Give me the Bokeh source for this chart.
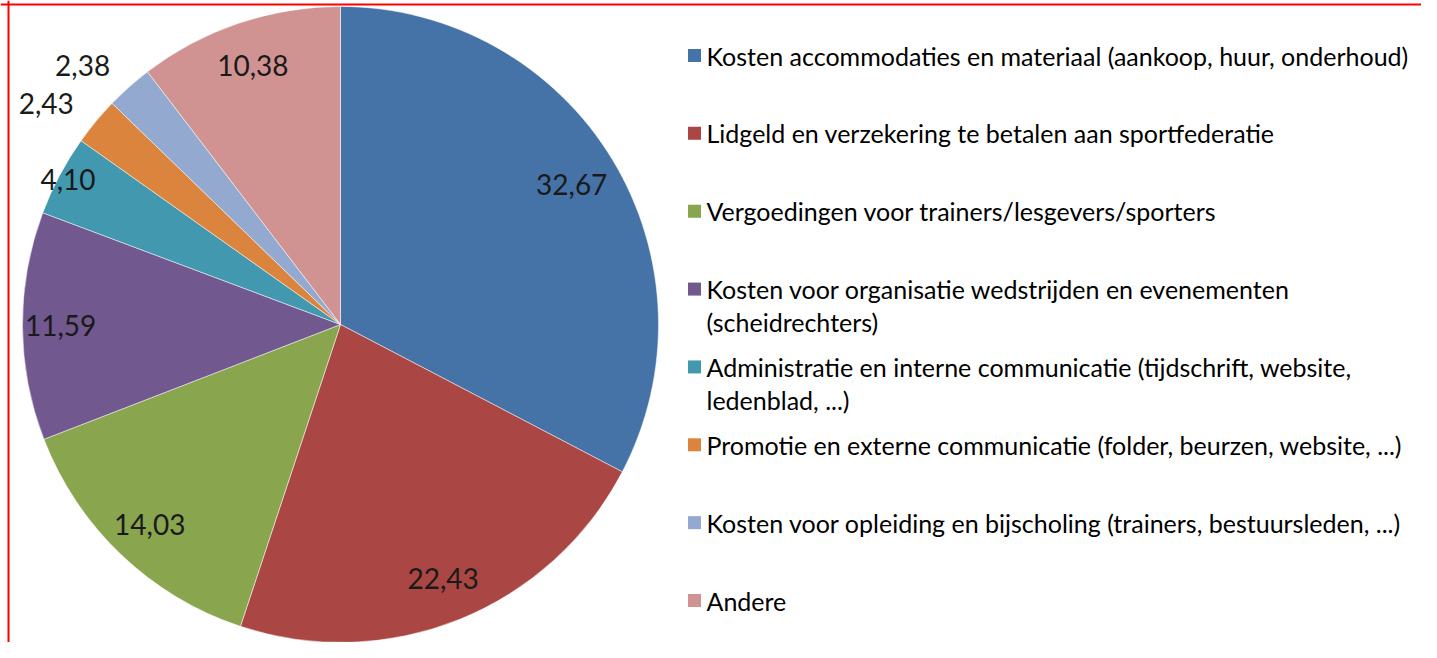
import math
from bokeh.plotting import figure
from bokeh.models import ColumnDataSource, Range1d, Span
from bokeh.core.properties import value
from bokeh.embed import file_html
from bokeh.resources import INLINE

# ---- data ----
categories = [
    "Kosten accommodaties en materiaal (aankoop, huur,  onderhoud)",
    "Lidgeld en verzekering  te betalen aan sportfederatie",
    "Vergoedingen voor  trainers/lesgevers/sporters",
    "Kosten voor  organisatie wedstrijden en evenementen\n(scheidrechters)",
    "Administratie en interne communicatie (tijdschrift, website,\nledenblad, ...)",
    "Promotie en externe communicatie (folder, beurzen,  website, ...)",
    "Kosten voor  opleiding en bijscholing (trainers, bestuursleden, ...)",
    "Andere",
]
values = [32.67, 22.43, 14.03, 11.59, 4.10, 2.43, 2.38, 10.38]
value_labels = ["32,67", "22,43", "14,03", "11,59", "4,10", "2,43", "2,38", "10,38"]
colors = ["#4572A7", "#AA4643", "#89A54E", "#71588F", "#4198AF", "#DB843D", "#93A9CF", "#D19392"]

# ---- layout (not data) ----
W, H = 1421, 642
CX, CY, R = 340, 318, 318
label_r = [0.85, 0.86, 0.87, 0.88, 0.97, 1.09, 1.09, 0.86]
label_align = ["center", "center", "center", "center", "center", "right", "right", "center"]
FONT = "Lato"

p = figure(width=W, height=H, output_backend="svg", toolbar_location=None,
           x_range=Range1d(0, W), y_range=Range1d(0, H),
           x_axis_location=None, y_axis_location=None, min_border=0)
p.grid.visible = False
p.outline_line_color = None
p.background_fill_color = "white"

total = sum(values)
starts, ends, lx, ly = [], [], [], []
cum = 0.0
for v, f in zip(values, label_r):
    a0 = cum / total
    cum += v
    a1 = cum / total
    starts.append(math.pi / 2 - 2 * math.pi * a1)
    ends.append(math.pi / 2 - 2 * math.pi * a0)
    m = (a0 + a1) / 2
    th = math.pi / 2 - 2 * math.pi * m
    lx.append(CX + f * R * math.cos(th))
    ly.append(CY + f * R * math.sin(th))

src = ColumnDataSource(dict(start=starts, end=ends, color=colors, lx=lx, ly=ly,
                            lab=value_labels, align=label_align))
p.wedge(x=CX, y=CY, radius=R, start_angle="start", end_angle="end",
        direction="anticlock", fill_color="color", line_color="white", line_width=0.5,
        source=src)
p.text(x="lx", y="ly", text="lab", text_align="align", text_baseline="middle",
       text_font=value(FONT), text_font_size="28px", text_color="#1a1a1a", source=src)

# ---- legend (manual) ----
LEG_X, LEG_Y0, LEG_STEP, LINE_H = 694, 587, 77.86, 33
sq_x, sq_y, sq_c = [], [], []
tx, ty, tt = [], [], []
for i, (cat, c) in enumerate(zip(categories, colors)):
    y0 = LEG_Y0 - i * LEG_STEP
    sq_x.append(LEG_X); sq_y.append(y0); sq_c.append(c)
    for j, line in enumerate(cat.split("\n")):
        tx.append(LEG_X + 12)
        ty.append(y0 - j * LINE_H)
        tt.append(line)
p.scatter(x=sq_x, y=sq_y, marker="square", size=13, fill_color=sq_c, line_color=None)
p.text(x=tx, y=ty, text=tt, text_align="left", text_baseline="middle",
       text_font=value(FONT), text_font_size="25px", text_color="black")

# ---- red frame (top & left) ----
p.add_layout(Span(location=H - 4, dimension="width", line_color="red", line_width=2))
p.add_layout(Span(location=8, dimension="height", line_color="red", line_width=2))

open("out.html", "w").write(file_html(p, INLINE))
